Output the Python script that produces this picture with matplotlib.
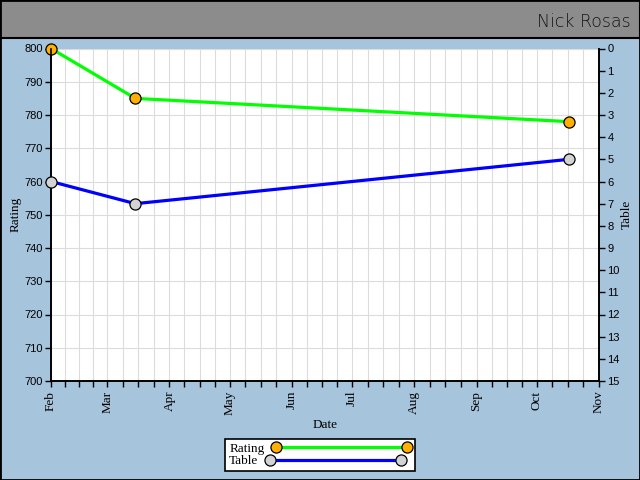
import datetime as dt

import matplotlib
matplotlib.use("Agg")
import matplotlib.dates as mdates
import matplotlib.pyplot as plt
from matplotlib.lines import Line2D
from matplotlib.patches import Rectangle
from matplotlib.ticker import FixedLocator, MultipleLocator

# data
dates = [dt.date(2010, 2, 1), dt.date(2010, 3, 15), dt.date(2010, 10, 17)]
rating = [800, 785, 778]
table = [6, 7, 5]
player = "Nick Rosas"

BG = "#a6c4dc"
SANS = ["Liberation Sans", "DejaVu Sans"]
SERIF = ["Liberation Serif", "DejaVu Serif"]
SERIF_SIZE = 9.5

fig = plt.figure(figsize=(6.4, 4.8), dpi=100, facecolor=BG)

# title bar + outer border
fig.patches.append(Rectangle((0, 1 - 38 / 480), 1, 38 / 480, transform=fig.transFigure,
                             facecolor="#8c8c8c", edgecolor="black", lw=1.5, zorder=0))
fig.patches.append(Rectangle((0, 0), 1, 1, transform=fig.transFigure,
                             facecolor="none", edgecolor="black", lw=2, zorder=5))
fig.text(0.985, 1 - 22 / 480, player, ha="right", va="center", fontsize=12.5,
         family="DejaVu Sans", fontweight="light", color="#151515")

ax = fig.add_axes([51 / 640, 1 - 381 / 480, 548 / 640, 332.5 / 480])
ax.set_facecolor("white")
ax2 = ax.twinx()

x = mdates.date2num(dates)
ax.plot(x, rating, color="#00ff00", lw=2.3, marker="o", ms=8, mfc="#ffb000",
        mec="black", mew=0.9, clip_on=False, zorder=3)
ax2.plot(x, table, color="#0000ff", lw=2.3, marker="o", ms=8, mfc="#d3d3d3",
         mec="black", mew=0.9, clip_on=False, zorder=3)

# x axis: months with quarter subdivisions
months = [dt.date(2010, m, 1) for m in range(2, 12)]
mnum = mdates.date2num(months)
minors = []
for a, b in zip(mnum[:-1], mnum[1:]):
    minors += [a + (b - a) * f for f in (0.25, 0.5, 0.75)]
ax.set_xlim(mnum[0], mnum[-1])
ax.xaxis.set_major_locator(FixedLocator(mnum))
ax.xaxis.set_minor_locator(FixedLocator(minors))
ax.set_xticklabels([d.strftime("%b") for d in months], rotation=90,
                   family=SERIF, fontsize=SERIF_SIZE)

ax.set_ylim(700, 800)
ax.yaxis.set_major_locator(MultipleLocator(10))
ax2.set_ylim(15, 0)
ax2.yaxis.set_major_locator(MultipleLocator(1))

for a in (ax, ax2):
    a.spines["top"].set_visible(False)
    for s in ("left", "right", "bottom"):
        a.spines[s].set_color("black")
        a.spines[s].set_linewidth(1.2)
    a.tick_params(which="both", direction="out", length=4, width=1, color="black")
for lab in ax.get_yticklabels() + ax2.get_yticklabels():
    lab.set_family(SANS)
    lab.set_fontsize(8)
ax.tick_params(axis="y", pad=2)
ax2.tick_params(axis="y", pad=2)
ax.tick_params(axis="x", pad=3)

ax.set_axisbelow(True)
ax.grid(axis="x", which="both", color="#dcdcdc", lw=0.8)
ax.grid(axis="y", which="major", color="#dcdcdc", lw=0.8)

ax.set_xlabel("Date", family=SERIF, fontsize=SERIF_SIZE)
ax.xaxis.set_label_coords(0.5, -(425 - 381) / 332.5)
ax.set_ylabel("Rating", family=SERIF, fontsize=SERIF_SIZE)
ax.yaxis.set_label_coords(-(51 - 16) / 548, 0.5)
ax2.set_ylabel("Table", family=SERIF, fontsize=SERIF_SIZE)
ax2.yaxis.set_label_coords(1 + (627 - 599) / 548, 0.5)
ax.yaxis.label.set_va("center")
ax2.yaxis.label.set_va("center")
ax.xaxis.label.set_va("center")

handles = [
    Line2D([], [], color="#00ff00", lw=2.3, marker="o", ms=8, mfc="#ffb000", mec="black", mew=0.9),
    Line2D([], [], color="#0000ff", lw=2.3, marker="o", ms=8, mfc="#d3d3d3", mec="black", mew=0.9),
]
leg = fig.legend(handles, ["Rating", "Table"], loc="center", bbox_to_anchor=(0.5, 1 - 455 / 480),
                 numpoints=2, markerfirst=False, handlelength=10.5, handletextpad=0.6,
                 labelspacing=0.0, borderpad=0.3, borderaxespad=0, fancybox=False, framealpha=1,
                 edgecolor="black", prop={"family": SERIF, "size": SERIF_SIZE})
leg.get_frame().set_linewidth(1.2)
# rows are right-aligned when markerfirst=False; left-align them like the original
leg._legend_box.get_children()[1].get_children()[0].align = "baseline"

fig.savefig("out.png", dpi=100, facecolor=BG)
